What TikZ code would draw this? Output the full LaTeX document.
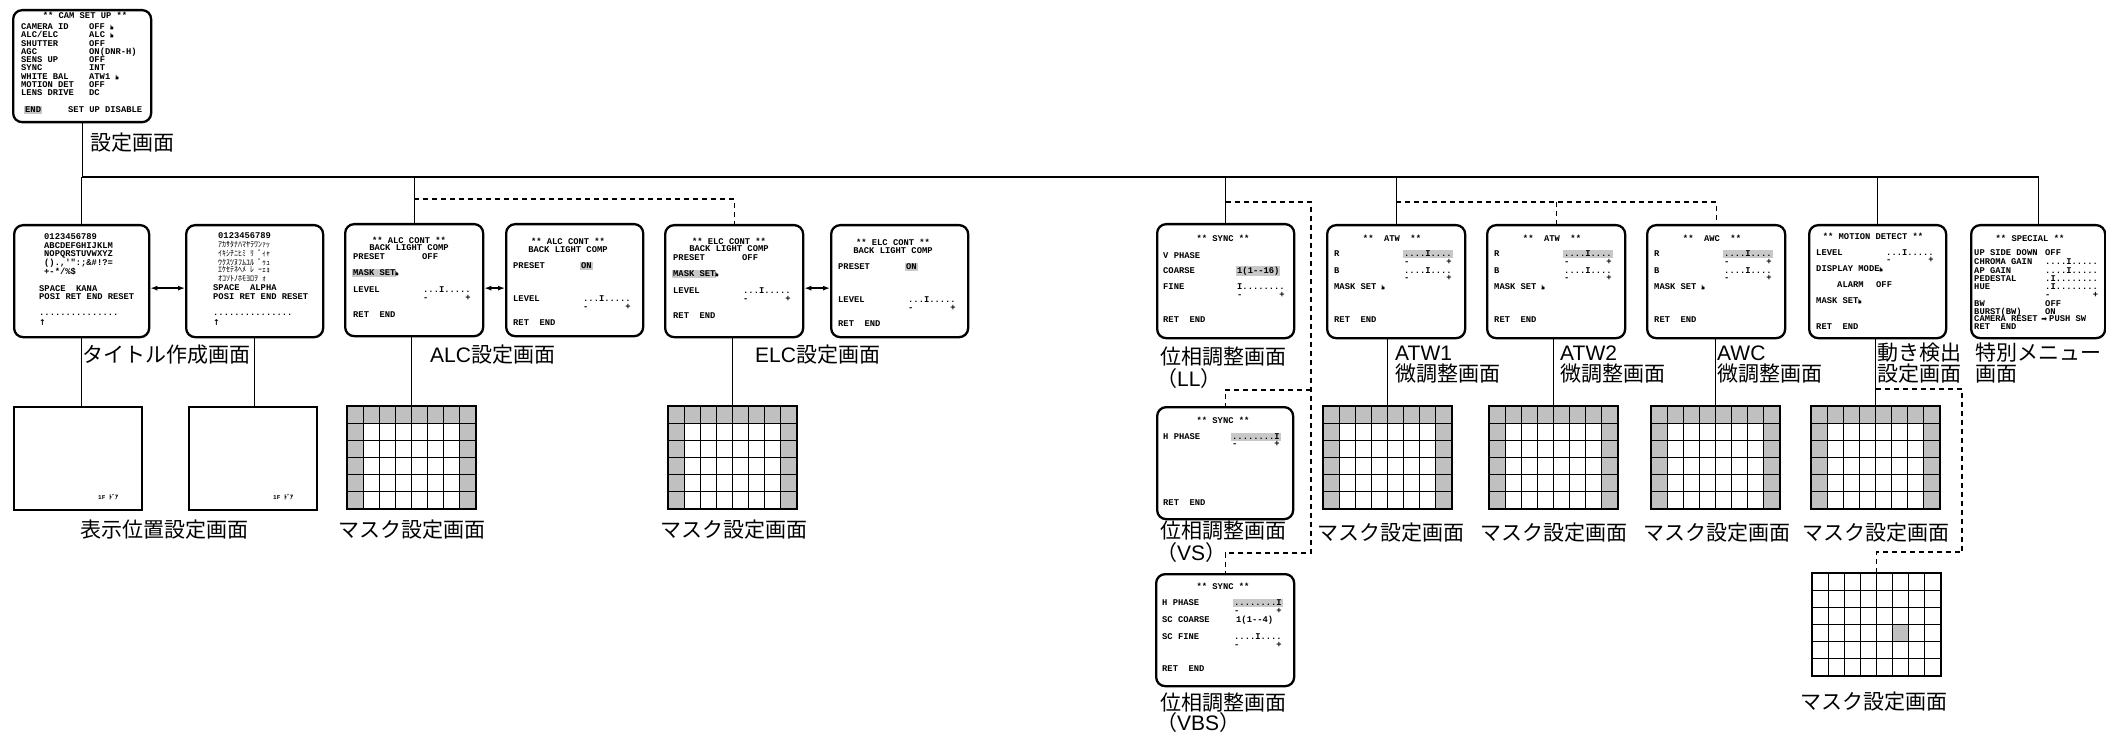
\documentclass[tikz,border=0pt]{standalone}
\usepackage{fontspec}
\setmainfont{Liberation Sans}
\newfontfamily\jp{Noto Sans CJK JP}
\newfontfamily\monof{Liberation Mono}
\newfontfamily\dv{DejaVu Sans}
\usetikzlibrary{arrows.meta}
\definecolor{hlg}{RGB}{200,200,200}
\definecolor{mg}{RGB}{192,192,192}
\newcommand\hlt[1]{{\setlength{\fboxsep}{1pt}\kern-1pt\colorbox{hlg}{#1}\kern-1pt}}
\newcommand\hand{{\dv\fontsize{6.5}{6.5}\selectfont\raisebox{-0.5pt}{\rotatebox{90}{☛}}}}
\newcommand\arr{{\dv\fontsize{7}{7}\selectfont ➡}}
\newcommand\uparr{{\dv\bfseries\fontsize{8}{8}\selectfont ↑}}
\newcommand\pmline{-\hphantom{0000000}+}
\newcommand\h{\hspace{.5em}}
\newcommand\J[1]{{\jp #1}}
\newcounter{tn}
\newcommand\tx[3]{\stepcounter{tn}\edef\tnm{tx\arabic{tn}}\node[tt] (\tnm) at (#1,#2) {#3};}
\newcommand\tc[3]{\stepcounter{tn}\edef\tnm{tx\arabic{tn}}\node[tt,anchor=center] (\tnm) at (#1,#2) {#3};}
\newcommand\kn[3]{\stepcounter{tn}\edef\tnm{tx\arabic{tn}}\node[tt,font=\jp\fontsize{8}{8}\selectfont] (\tnm) at (#1,#2) {#3};}
\newcommand\screen[5]{\node[scr,minimum width=#4pt,minimum height=#5pt] (#1) at (#2,#3) {};}
\newcommand\mgrid[4]{%
 \node[gridn] (#1) at (#2,#3) {};
 \begin{scope}[shift={(#2,#3)}]
  \ifnum#4=1
   \fill[mg] (0,0) rectangle (129,17.1667);
   \fill[mg] (0,17.1667) rectangle (16.125,103);
   \fill[mg] (112.875,17.1667) rectangle (129,103);
  \else
   \fill[mg] (80.625,51.5) rectangle (96.75,68.667);
  \fi
  \foreach \c in {1,...,7} \draw[gl] (\c*16.125,0) -- (\c*16.125,103);
  \foreach \r in {1,...,5} \draw[gl] (0,\r*17.1667) -- (129,\r*17.1667);
  \draw[line width=2.3pt] (0,0) rectangle (129,103);
 \end{scope}}
\newcommand\lcA[4]{%
 \screen{#1}{#2}{#3}{138}{112}
 \begin{scope}[shift={(#2,#3)}]
 \tc{65}{17}{** #4 CONT **}
 \tc{65}{25}{BACK LIGHT COMP}
 \tx{9}{34}{\makebox[69pt][l]{PRESET}OFF}
 \tx{9}{50}{\hlt{MASK SET}\hand}
 \tx{9}{67}{\makebox[70pt][l]{LEVEL}...I.....}
 \tx{79}{75}{\pmline}
 \tx{9}{92}{RET~~END}
 \end{scope}}
\newcommand\lcB[4]{%
 \screen{#1}{#2}{#3}{137}{112}
 \begin{scope}[shift={(#2,#3)}]
 \tc{63}{18}{** #4 CONT **}
 \tc{63}{27}{BACK LIGHT COMP}
 \tx{8}{43}{\makebox[68pt][l]{PRESET}\hlt{ON}}
 \tx{8}{76}{\makebox[70pt][l]{LEVEL}...I.....}
 \tx{78}{84}{\pmline}
 \tx{8}{100}{RET~~END}
 \end{scope}}
\newcommand\wb[4]{%
 \screen{#1}{#2}{#3}{138}{113}
 \begin{scope}[shift={(#2,#3)}]
 \tc{66}{14}{**~~#4~~**}
 \tx{8}{30}{\makebox[70pt][l]{R}\hlt{....I....}}
 \tx{78}{38}{\pmline}
 \tx{8}{47}{\makebox[70pt][l]{B}....I....}
 \tx{78}{54}{\pmline}
 \tx{8}{63}{MASK SET~\hand}
 \tx{8}{96}{RET~~END}
 \end{scope}}
\tikzset{
 tt/.style={font=\monof\bfseries\fontsize{8.8}{9}\selectfont, inner sep=0pt, anchor=west},
 scr/.style={draw, line width=2.3pt, rounded corners=9pt, anchor=north west, inner sep=0pt},
 gridn/.style={anchor=north west, minimum width=129pt, minimum height=103pt, inner sep=0pt, outer sep=0pt},
 gl/.style={line width=0.9pt},
 plain/.style={draw, line width=1.5pt, anchor=north west, minimum width=128pt, minimum height=103pt, inner sep=0pt},
 conn/.style={line width=1.3pt},
 dconn/.style={conn, dash pattern=on 5pt off 4pt},
 arrw/.style={conn, {Latex[length=7pt,width=5pt]}-{Latex[length=7pt,width=5pt]}},
 lab/.style={anchor=west, inner sep=0pt, font=\fontsize{21}{21}\selectfont},
}
\begin{document}
\begin{tikzpicture}[x=1pt,y=-1pt]
\useasboundingbox (0,0) rectangle (2106,735);
% ---- main setup screen
\screen{cam}{12}{9}{138}{112}
\begin{scope}[shift={(12,9)}]
\tc{73}{6}{** CAM SET UP **}
\tx{9}{18}{\makebox[68pt][l]{CAMERA ID}OFF~\hand}
\tx{9}{26}{\makebox[68pt][l]{ALC/ELC}ALC~\hand}
\tx{9}{35}{\makebox[68pt][l]{SHUTTER}OFF}
\tx{9}{43}{\makebox[68pt][l]{AGC}ON(DNR-H)}
\tx{9}{51}{\makebox[68pt][l]{SENS UP}OFF}
\tx{9}{59}{\makebox[68pt][l]{SYNC}INT}
\tx{9}{68}{\makebox[68pt][l]{WHITE BAL}ATW1~\hand}
\tx{9}{76}{\makebox[68pt][l]{MOTION DET}OFF}
\tx{9}{84}{\makebox[68pt][l]{LENS DRIVE}DC}
\tx{13}{101}{\hlt{END}}
\tx{56}{101}{SET UP DISABLE}
\end{scope}
% ---- title screens
\screen{t1}{13}{224}{135}{112}
\begin{scope}[shift={(13,224)}]
\tx{31}{13}{0123456789}
\tx{31}{22}{ABCDEFGHIJKLM}
\tx{31}{30}{NOPQRSTUVWXYZ}
\tx{31}{39}{().,'":;\&\#!?=}
\tx{31}{48}{+-*/\%\$}
\tx{26}{65}{SPACE~~KANA}
\tx{26}{73}{POSI RET END RESET}
\tx{26}{91}{...............}
\tx{26}{99}{\uparr}
\end{scope}
\screen{t2}{185}{224}{137}{112}
\begin{scope}[shift={(185,224)}]
\tx{33}{12}{0123456789}
\kn{33}{21}{ｱｶｻﾀﾅﾊﾏﾔﾗﾜﾝｧｯ}
\kn{33}{29}{ｲｷｼﾁﾆﾋﾐ\h ﾘ\h ﾞｨｬ}
\kn{33}{38}{ｳｸｽﾂﾇﾌﾑﾕﾙ\h ﾟｩｭ}
\kn{33}{46}{ｴｹｾﾃﾈﾍﾒ\h ﾚ\h ｰｪｮ}
\kn{33}{55}{ｵｺｿﾄﾉﾎﾓﾖﾛｦ\h ｫ}
\tx{28}{64}{SPACE~~ALPHA}
\tx{28}{73}{POSI RET END RESET}
\tx{28}{91}{...............}
\tx{28}{99}{\uparr}
\end{scope}
\node[plain] (pos1) at (13,406) {};
\node[plain] (pos2) at (188,406) {};
\node[tt,font=\monof\bfseries\fontsize{6}{6}\selectfont] (p1t) at (98,497) {1F {\jp ﾄﾞｱ}};
\node[tt,font=\monof\bfseries\fontsize{6}{6}\selectfont] (p2t) at (273,497) {1F {\jp ﾄﾞｱ}};
% ---- ALC / ELC
\lcA{alc1}{344}{223}{ALC}
\lcB{alc2}{505}{223}{ALC}
\lcA{elc1}{664}{224}{ELC}
\lcB{elc2}{830}{224}{ELC}
\mgrid{alcm}{347}{406}{1}
\mgrid{elcm}{668}{406}{1}
% ---- SYNC
\screen{sy1}{1156}{223}{137}{114}
\begin{scope}[shift={(1156,223)}]
\tc{67}{15}{** SYNC **}
\tx{7}{33}{V PHASE}
\tx{7}{48}{\makebox[74pt][l]{COARSE}\hlt{1(1-\kern0pt-16)}}
\tx{7}{64}{\makebox[74pt][l]{FINE}I........}
\tx{81}{72}{\pmline}
\tx{7}{97}{RET~~END}
\end{scope}
\screen{sy2}{1156}{406}{136}{112}
\begin{scope}[shift={(1156,406)}]
\tc{67}{14}{** SYNC **}
\tx{7}{31}{\makebox[69pt][l]{H PHASE}\hlt{........I}}
\tx{76}{38}{\pmline}
\tx{7}{97}{RET~~END}
\end{scope}
\screen{sy3}{1155}{573}{138}{112}
\begin{scope}[shift={(1155,573)}]
\tc{68}{13}{** SYNC **}
\tx{7}{30}{\makebox[72pt][l]{H PHASE}\hlt{........I}}
\tx{79}{38}{\pmline}
\tx{7}{47}{\makebox[74pt][l]{SC COARSE}1(1-\kern0pt-4)}
\tx{7}{64}{\makebox[72pt][l]{SC FINE}....I....}
\tx{79}{72}{\pmline}
\tx{7}{96}{RET~~END}
\end{scope}
% ---- white balance
\wb{atw1}{1326}{224}{ATW}
\wb{atw2}{1486}{224}{ATW}
\wb{awc}{1646}{224}{AWC}
\mgrid{m1}{1323}{406}{1}
\mgrid{m2}{1489}{406}{1}
\mgrid{m3}{1651}{406}{1}
% ---- motion detect
\screen{md}{1808}{224}{137}{113}
\begin{scope}[shift={(1808,224)}]
\tc{65}{12}{** MOTION DETECT **}
\tx{8}{29}{\makebox[70pt][l]{LEVEL}...I.....}
\tx{78}{36}{\pmline}
\tx{8}{45}{DISPLAY MODE\hand}
\tx{29}{61}{\makebox[39pt][l]{ALARM}OFF}
\tx{8}{77}{MASK SET\hand}
\tx{8}{103}{RET~~END}
\end{scope}
\mgrid{mm}{1811}{406}{1}
\mgrid{mm2}{1812}{573}{2}
% ---- special
\screen{sp}{1970}{224}{134}{113}
\begin{scope}[shift={(1970,224)}]
\tc{60}{14}{** SPECIAL **}
\tx{4}{29}{\makebox[71pt][l]{UP SIDE DOWN}OFF}
\tx{4}{38}{\makebox[71pt][l]{CHROMA GAIN}....I.....}
\tx{4}{47}{\makebox[71pt][l]{AP GAIN}....I.....}
\tx{4}{55}{\makebox[71pt][l]{PEDESTAL}.I........}
\tx{4}{63}{\makebox[71pt][l]{HUE}.I........}
\tx{75}{71}{-\hphantom{00000000}+}
\tx{4}{80}{\makebox[71pt][l]{BW}OFF}
\tx{4}{88}{\makebox[71pt][l]{BURST(BW)}ON}
\tx{4}{95}{\makebox[65pt][l]{CAMERA RESET}\makebox[10pt]{\arr}PUSH SW}
\tx{4}{103}{RET~~END}
\end{scope}
% ---- labels
\node[lab] (l1) at (90,143) {\J{設定画面}};
\node[lab] (l2) at (82,355) {\J{タイトル作成画面}};
\node[lab] (l3) at (80,530) {\J{表示位置設定画面}};
\node[lab] (l4) at (430,355) {ALC\J{設定画面}};
\node[lab] (l5) at (755,355) {ELC\J{設定画面}};
\node[lab] (l6) at (338,530) {\J{マスク設定画面}};
\node[lab] (l7) at (660,530) {\J{マスク設定画面}};
\node[lab] (l8a) at (1160,357) {\J{位相調整画面}};
\node[lab] (l8b) at (1156,379) {\J{（}LL\J{）}};
\node[lab] (l9a) at (1160,531) {\J{位相調整画面}};
\node[lab] (l9b) at (1156,553) {\J{（}VS\J{）}};
\node[lab] (l10a) at (1160,703) {\J{位相調整画面}};
\node[lab] (l10b) at (1156,723) {\J{（}VBS\J{）}};
\node[lab] (l11a) at (1395,353) {ATW1};
\node[lab] (l11b) at (1395,374) {\J{微調整画面}};
\node[lab] (l12a) at (1560,353) {ATW2};
\node[lab] (l12b) at (1560,374) {\J{微調整画面}};
\node[lab] (l13a) at (1717,353) {AWC};
\node[lab] (l13b) at (1717,374) {\J{微調整画面}};
\node[lab] (l14a) at (1877,353) {\J{動き検出}};
\node[lab] (l14b) at (1877,374) {\J{設定画面}};
\node[lab] (l15a) at (1975,353) {\J{特別メニュー}};
\node[lab] (l15b) at (1975,374) {\J{画面}};
\node[lab] (l16) at (1317,533) {\J{マスク設定画面}};
\node[lab] (l17) at (1480,533) {\J{マスク設定画面}};
\node[lab] (l18) at (1643,533) {\J{マスク設定画面}};
\node[lab] (l19) at (1802,533) {\J{マスク設定画面}};
\node[lab] (l20) at (1800,702) {\J{マスク設定画面}};
% ---- connectors
\coordinate (bus) at (0,177);
\draw[conn] (cam.south) -- (cam.south |- bus) -- (sp.north |- bus) -- (sp.north);
\foreach \n in {t1,alc1,sy1,atw1,md} \draw[conn] (\n.north |- bus) -- (\n.north);
\draw[conn] (t1.south) -- (t1.south |- pos1.north);
\draw[conn] (t2.south) -- (t2.south |- pos2.north);
\draw[conn] (alcm.north |- alc1.south) -- (alcm.north);
\draw[conn] (elcm.north |- elc1.south) -- (elcm.north);
\draw[conn] (m1.north |- atw1.south) -- (m1.north);
\draw[conn] (m2.north |- atw2.south) -- (m2.north);
\draw[conn] (m3.north |- awc.south) -- (m3.north);
\draw[conn] (mm.north |- md.south) -- (mm.north);
\draw[arrw] ([yshift=-7pt]t1.east) -- ([yshift=-7pt]t1.east -| t2.west);
\draw[arrw] ([yshift=-8pt]alc1.east) -- ([yshift=-8pt]alc1.east -| alc2.west);
\draw[arrw] ([yshift=-7pt]elc1.east) -- ([yshift=-7pt]elc1.east -| elc2.west);
\coordinate (dA) at (0,199);
\draw[dconn] (alc1.north |- dA) -- (elc1.north |- dA) -- (elc1.north);
\coordinate (dS1) at (1311,202);
\coordinate (dS2) at (1311,390);
\coordinate (dS3) at (1311,553);
\draw[dconn] (sy1.north |- dS1) -- (dS1) -- (dS3) -- (sy3.north |- dS3) -- (sy3.north);
\draw[dconn] (dS2) -- (sy2.north |- dS2) -- (sy2.north);
\coordinate (dW) at (0,202);
\draw[dconn] (atw1.north |- dW) -- (awc.north |- dW) -- (awc.north);
\draw[dconn] (atw2.north |- dW) -- (atw2.north);
\coordinate (dM1) at (1962,389);
\coordinate (dM2) at (1962,552);
\draw[dconn] (mm.north |- dM1) -- (dM1) -- (dM2) -- (mm2.north |- dM2) -- (mm2.north);
\end{tikzpicture}
\end{document}
